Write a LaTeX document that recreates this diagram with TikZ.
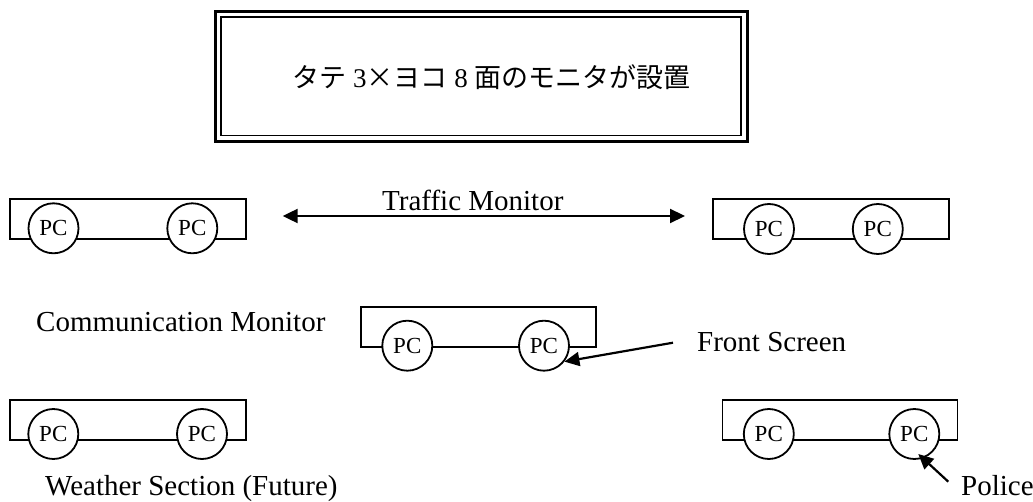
\documentclass[tikz,border=0pt]{standalone}
\usepackage{fontspec}
\setmainfont{Liberation Serif}
\newfontfamily\cjk{Noto Sans CJK JP}
\usetikzlibrary{arrows.meta}

\begin{document}
\begin{tikzpicture}[x=1pt,y=-1pt,
  desk/.style={draw, line width=1.8pt, inner sep=0pt, minimum height=40pt, minimum width=236pt},
  pc/.style={circle, draw, fill=white, line width=1.8pt, minimum size=50pt, inner sep=0pt,
             font=\fontsize{23}{23}\selectfont},
  lbl/.style={anchor=base west, inner sep=0pt, font=\fontsize{29}{29}\selectfont},
  tip/.style={Triangle[length=15pt,width=14pt]},
  arr/.style={line width=2.2pt, -{Triangle[length=15pt,width=14pt]}},
  ]
\useasboundingbox (0,0) rectangle (1033,502);

% title frame: thick outer line, thinner inner line
\node[draw, line width=3pt, minimum width=532pt, minimum height=130pt, inner sep=0pt]
  (frameOuter) at (481,76.2) {};
\node[draw, line width=1.8pt, minimum width=520pt, minimum height=118.5pt, inner sep=0pt]
  (frameInner) at (481,76.2) {};
\node[inner sep=0pt, font=\fontsize{27}{27}\selectfont] (title) at (491.5,77)
  {{\cjk タテ} 3{\cjk ×ヨコ} 8 {\cjk 面のモニタが設置}};

% desks
\node[desk] (tl) at (128,219.3) {};
\node[desk] (tr) at (831.3,219.3) {};
\node[desk, minimum width=235.3pt, minimum height=39.4pt] (mid) at (478.4,327) {};
\node[desk] (bl) at (128,420) {};
\node[desk, minimum width=235pt] (br) at (840,420) {};

% PCs on the desks
\node[pc] (tl1) at (53.5,228.3) {PC};
\node[pc] (tl2) at (192.3,228.3) {PC};
\node[pc] (tr1) at (769,229) {PC};
\node[pc] (tr2) at (877.8,229) {PC};
\node[pc] (m1) at (407.3,345.7) {PC};
\node[pc] (m2) at (544,345.7) {PC};
\node[pc] (bl1) at (53.3,434) {PC};
\node[pc] (bl2) at (202,434) {PC};
\node[pc] (br1) at (768.8,434) {PC};
\node[pc] (br2) at (914.3,434) {PC};

% labels
\node[lbl] (traffic) at (382,210.7) {Traffic Monitor};
\node[lbl] (comm) at (36,331.7) {Communication Monitor};
\node[lbl] (front) at (697,351.7) {Front Screen};
\node[lbl] (weather) at (45,495) {Weather Section (Future)};
\node[lbl] (police) at (961,495) {Police};

% connectors
\coordinate (tmL) at (282.7,216);
\coordinate (tmR) at (685,216);
\draw[line width=2.2pt, {Triangle[length=15pt,width=14pt]}-{Triangle[length=15pt,width=14pt]}] (tmL) -- (tmR);

\coordinate (fsTail) at (673,342.7);
\draw[arr] (fsTail) -- (m2.-38);

\coordinate (poTail) at (948.3,481.7);
\draw[arr] (poTail) -- ([shift={(4,20)}]br2.center);
\end{tikzpicture}
\end{document}
